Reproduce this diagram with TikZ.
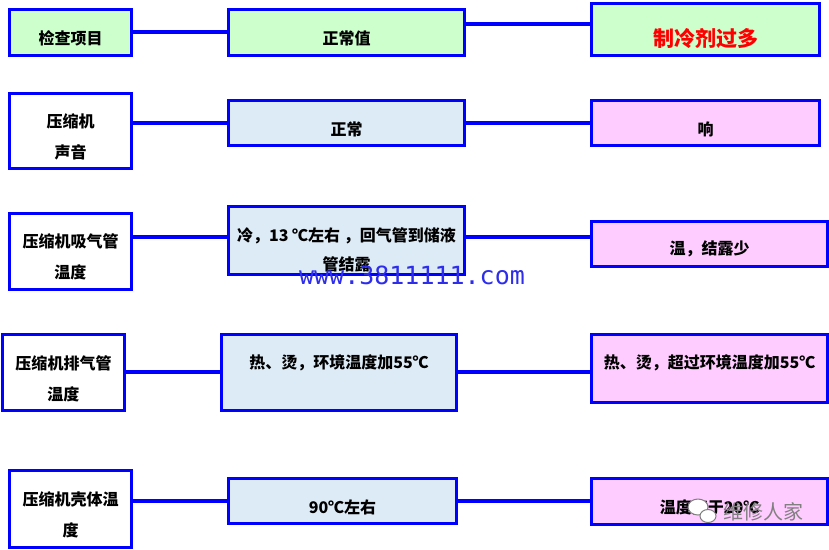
\documentclass[tikz,border=0pt]{standalone}
\usepackage{fontspec}
\setmainfont{Noto Sans CJK SC}
\setmonofont{DejaVu Sans Mono}
\definecolor{boxblue}{RGB}{0,0,255}
\definecolor{okgreen}{RGB}{204,255,204}
\definecolor{normblue}{RGB}{221,235,247}
\definecolor{faultpink}{RGB}{255,204,255}
\definecolor{wmblue}{RGB}{45,45,235}
\tikzset{
	box/.style={draw=boxblue, line width=3.4pt, rectangle, inner sep=0pt},
	conn/.style={draw=boxblue, line width=3.4pt},
	txt/.style={font=\fontsize{16}{31}\selectfont\bfseries, align=center, inner sep=0pt},
}
\begin{document}
\begin{tikzpicture}[x=1pt, y=-1pt]
		\useasboundingbox (0,0) rectangle (829,549);
		
		% row 1
		\node[box, fill=okgreen, minimum width=121.6pt, minimum height=45.6pt] (l1) at (70.5,32.5) {};
		\node[box, fill=okgreen, minimum width=235.6pt, minimum height=45.6pt] (m1) at (346.5,32.5) {};
		\node[box, fill=okgreen, minimum width=227.6pt, minimum height=51.6pt] (r1) at (705.5,29.5) {};
		% row 2
		\node[box, fill=white, minimum width=121.6pt, minimum height=74.6pt] (l2) at (70.5,131) {};
		\node[box, fill=normblue, minimum width=235.6pt, minimum height=44.6pt] (m2) at (346.5,123) {};
		\node[box, fill=faultpink, minimum width=227.6pt, minimum height=44.6pt] (r2) at (705.5,123) {};
		% row 3
		\node[box, fill=white, minimum width=121.6pt, minimum height=75.6pt] (l3) at (70.5,251.5) {};
		\node[box, fill=normblue, minimum width=235.6pt, minimum height=67.6pt] (m3) at (346.5,240.5) {};
		\node[box, fill=faultpink, minimum width=235.6pt, minimum height=44.6pt] (r3) at (709.5,244) {};
		% row 4
		\node[box, fill=white, minimum width=121.6pt, minimum height=75.6pt] (l4) at (63.5,372.5) {};
		\node[box, fill=normblue, minimum width=234.6pt, minimum height=75.6pt] (m4) at (339,372.5) {};
		\node[box, fill=faultpink, minimum width=235.6pt, minimum height=67.6pt] (r4) at (709.5,368.5) {};
		% row 5
		\node[box, fill=white, minimum width=121.6pt, minimum height=76.6pt] (l5) at (70.5,509) {};
		\node[box, fill=normblue, minimum width=227.6pt, minimum height=44.6pt] (m5) at (342.5,501) {};
		\node[box, fill=faultpink, minimum width=235.6pt, minimum height=45.6pt] (r5) at (709.5,501.5) {};
		
		\draw[conn] (l1.east |- 0,32) -- (m1.west |- 0,32);
		\draw[conn] (m1.east |- 0,24) -- (r1.west |- 0,24);
		\draw[conn] (l2.east |- 0,123) -- (m2.west);
		\draw[conn] (m2.east) -- (r2.west);
		\draw[conn] (l3.east |- 0,237) -- (m3.west |- 0,237);
		\draw[conn] (m3.east |- 0,237) -- (r3.west |- 0,237);
		\draw[conn] (l4.east |- 0,372) -- (m4.west |- 0,372);
		\draw[conn] (m4.east |- 0,372) -- (r4.west |- 0,372);
		\draw[conn] (l5.east |- 0,501) -- (m5.west |- 0,501);
		\draw[conn] (m5.east |- 0,501) -- (r5.west |- 0,501);
		
		\node[txt] (t-l1) at (70.5,38) {检查项目};
		\node[txt] (t-m1) at (346.5,38) {正常值};
		\node[txt, text=red, font=\fontsize{21}{21}\selectfont\bfseries] (t-r1) at (705.5,38) {制冷剂过多};
		\node[txt] (t-l2) at (70.5,137) {压缩机\\声音};
		\node[txt] (t-m2) at (346.5,129) {正常};
		\node[txt] (t-r2) at (705.5,129) {响};
		\node[txt] (t-l3) at (70.5,257) {压缩机吸气管\\温度};
		\node[txt, font=\fontsize{16}{29}\selectfont\bfseries] (t-m3) at (346.5,249.5) {冷，13 ℃左右 ，回气管到储液\\管结露};
		\node[txt] (t-r3) at (709.5,249) {温，结露少};
		\node[txt] (t-l4) at (63.5,378.5) {压缩机排气管\\温度};
		\node[txt] (t-m4) at (339,363) {热、烫，环境温度加55℃};
		\node[txt] (t-r4) at (709.5,363) {热、烫，超过环境温度加55℃};
		\node[txt] (t-l5) at (70.5,514.5) {压缩机壳体温\\度};
		\node[txt] (t-m5) at (342.5,507) {90℃左右};
		\node[txt] (t-r5) at (709.5,507) {温度高于20℃};
		
		% watermarks
		\node[font=\ttfamily\fontsize{25}{25}\selectfont, text=wmblue, inner sep=0pt] (site) at (412,275) {www.3811111.com};
		\draw[gray, fill=white, line width=1pt] (698,507) ellipse (10 and 8);
		\draw[gray, fill=white, line width=1pt] (708,516) ellipse (8 and 6.5);
		\node[font=\fontsize{20}{20}\selectfont, text=gray, inner sep=0pt] (wx) at (763,512) {维修人家};
			
		\end{tikzpicture}
\end{document}
